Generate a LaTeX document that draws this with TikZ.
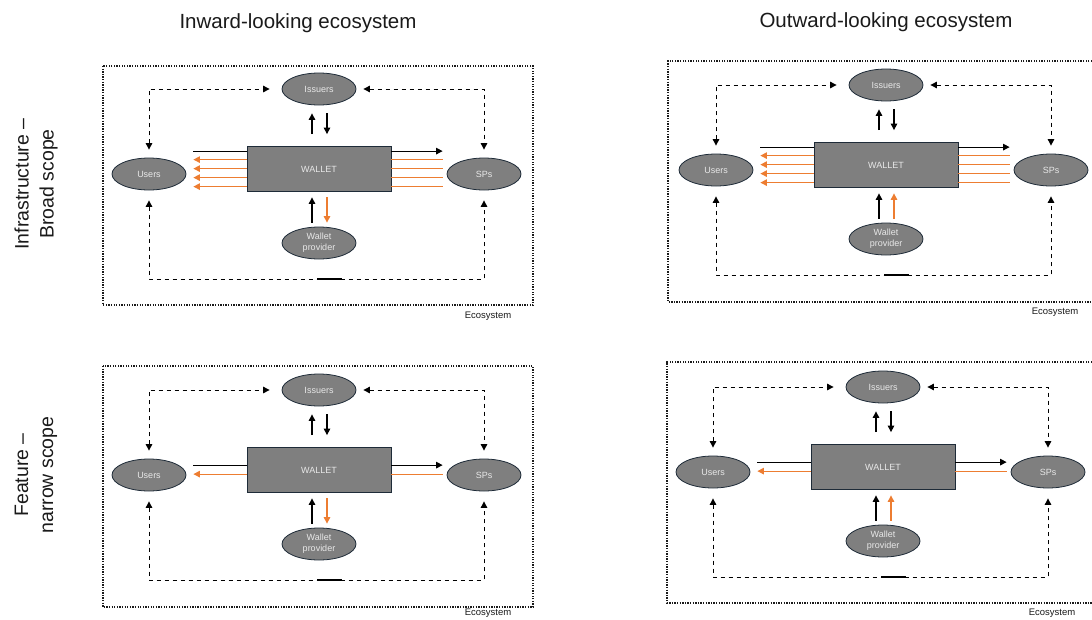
\documentclass[tikz,border=0pt]{standalone}
\usepackage{fontspec}
\setmainfont{Liberation Sans}
\usetikzlibrary{arrows.meta,shapes.geometric}

\definecolor{shapefill}{HTML}{7F7F7F}
\definecolor{shapeedge}{HTML}{1E2B38}
\definecolor{labeltext}{HTML}{E8E8E8}
\definecolor{flow}{HTML}{ED7D31}
\definecolor{ink}{HTML}{1A1A1A}

\tikzset{
  actor/.style={ellipse, draw=shapeedge, fill=shapefill, line width=0.8pt,
    minimum width=74pt, minimum height=32pt, inner sep=0pt, text=labeltext,
    font=\fontsize{9}{11}\selectfont, align=center},
  walletbox/.style={rectangle, draw=shapeedge, fill=shapefill, line width=0.8pt,
    minimum width=144pt, minimum height=45pt, inner sep=0pt, text=labeltext,
    font=\fontsize{9}{11}\selectfont},
  tip/.style={-{Triangle[length=6.5pt,width=6.5pt]}},
  bitip/.style={{Triangle[length=6.5pt,width=6.5pt]}-{Triangle[length=6.5pt,width=6.5pt]}},
  link/.style={line width=1.1pt, draw=black},
  flowline/.style={line width=1.1pt, draw=flow},
  loopline/.style={line width=1pt, draw=black, dash pattern=on 4.5pt off 3.5pt},
  frame/.style={line width=1.5pt, draw=ink, dash pattern=on 1.3pt off 1.3pt},
  eco/.style={font=\fontsize{9.5}{11}\selectfont, text=ink},
  coltitle/.style={font=\fontsize{20.5}{24}\selectfont, text=ink},
  rowtitle/.style={font=\fontsize{19.5}{25}\selectfont, text=ink, rotate=90, align=center},
}

% One ecosystem panel: actors, wallet, dashed loops and the issuer/provider links.
% #1 name prefix, #2 #3 centre of the Issuers node, #4 vertical place of the caption
\newcommand\ecopanel[4]{%
  \begin{scope}[shift={(#2,#3)}]
    \node[actor] (#1iss) at (0,0) {Issuers};
    \node[actor] (#1usr) at (-170,85) {Users};
    \node[actor] (#1sp) at (165,85) {SPs};
    \node[actor] (#1wp) at (0,154) {Wallet\\provider};
    \node[walletbox] (#1w) at (0,80) {WALLET};
    \node[eco] (#1eco) at (169,#4) {Ecosystem};
    \coordinate (#1bot) at (0,190);
  \end{scope}
  \draw[loopline,bitip] ([yshift=8pt]#1usr.north) |- ([xshift=-12pt]#1iss.west);
  \draw[loopline,bitip] ([xshift=7pt]#1iss.east) -| ([yshift=8pt]#1sp.north);
  \draw[loopline,bitip] ([yshift=-10pt]#1usr.south) |- (#1bot) -| ([yshift=-10pt]#1sp.south);
  \draw[link] ([xshift=-2pt]#1bot) -- ([xshift=23pt]#1bot);
  \draw[link,tip] ([xshift=-7pt,yshift=12pt]#1w.north) -- ([xshift=-7pt,yshift=-8pt]#1iss.south);
  \draw[link,tip] ([xshift=8pt,yshift=-8pt]#1iss.south) -- ([xshift=8pt,yshift=12pt]#1w.north);
  \draw[link,tip] ([xshift=-7pt,yshift=4pt]#1wp.north) -- ([xshift=-7pt,yshift=-5.5pt]#1w.south);
}

% Horizontal wires leaving the wallet, #3 = depth below the top edge of the box
\newcommand\toUsers[3]{\draw[#1,shorten >=7pt] ([yshift=-#3pt]#2w.north west) -- ([yshift=-#3pt]#2w.north west -| #2usr.east);}
\newcommand\toSPs[3]{\draw[#1,shorten >=4pt] ([yshift=-#3pt]#2w.north east) -- ([yshift=-#3pt]#2w.north east -| #2sp.west);}

\begin{document}
\begin{tikzpicture}[x=1pt,y=-1pt]
\useasboundingbox (0,0) rectangle (1092,619);

% headings
\node[coltitle] (inwardtitle) at (298,23) {Inward-looking ecosystem};
\node[coltitle] (outwardtitle) at (886,22) {Outward-looking ecosystem};
\node[rowtitle] (broadrow) at (36,184) {Infrastructure –\\Broad scope};
\node[rowtitle] (narrowrow) at (36,475) {Feature –\\narrow scope};

% ecosystem boundaries
\draw[frame] (103,66) rectangle (533,305);
\draw[frame] (1092,61) -- (668,61) -- (668,302) -- (1092,302);
\draw[frame] (103,366) rectangle (533,607);
\draw[frame] (1092,362) -- (667,362) -- (667,603) -- (1092,603);

% inward-looking, broad scope
\ecopanel{TL}{319}{89}{227}
\toUsers{link}{TL}{5}
\toSPs{link,tip}{TL}{5}
\foreach \d in {13.5,22.5,31.5,40.5}{\toUsers{flowline,tip}{TL}{\d}\toSPs{flowline}{TL}{\d}}
\draw[flowline,tip] ([xshift=8pt,yshift=-5.5pt]TLw.south) -- ([xshift=8pt,yshift=4pt]TLwp.north);

% outward-looking, broad scope
\ecopanel{TR}{886}{85}{227}
\toUsers{link}{TR}{5}
\toSPs{link,tip}{TR}{5}
\foreach \d in {13.5,22.5,31.5,40.5}{\toUsers{flowline,tip}{TR}{\d}\toSPs{flowline}{TR}{\d}}
\draw[flowline,tip] ([xshift=8pt,yshift=4pt]TRwp.north) -- ([xshift=8pt,yshift=-5.5pt]TRw.south);

% inward-looking, narrow scope
\ecopanel{BL}{319}{390}{223}
\toUsers{link}{BL}{18}
\toSPs{link,tip}{BL}{18}
\toUsers{flowline,tip}{BL}{27}
\toSPs{flowline}{BL}{27}
\draw[flowline,tip] ([xshift=8pt,yshift=-5.5pt]BLw.south) -- ([xshift=8pt,yshift=4pt]BLwp.north);

% outward-looking, narrow scope
\ecopanel{BR}{883}{387}{226}
\toUsers{link}{BR}{18}
\toSPs{link,tip}{BR}{18}
\toUsers{flowline,tip}{BR}{27}
\toSPs{flowline}{BR}{27}
\draw[flowline,tip] ([xshift=8pt,yshift=4pt]BRwp.north) -- ([xshift=8pt,yshift=-5.5pt]BRw.south);
\end{tikzpicture}
\end{document}
